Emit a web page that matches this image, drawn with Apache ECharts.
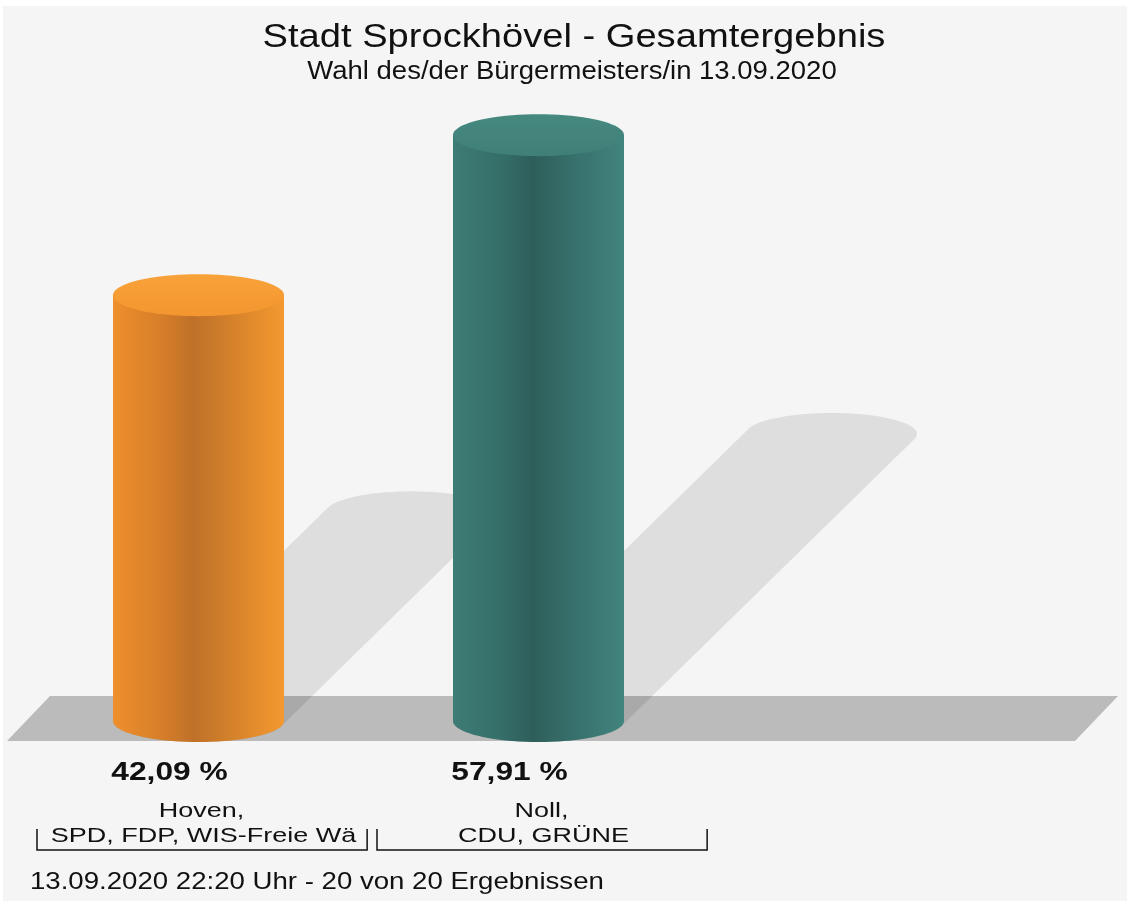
<!DOCTYPE html>
<html>
<head>
<meta charset="utf-8">
<title>Stadt Sprockhövel - Gesamtergebnis</title>
<script src="https://cdn.jsdelivr.net/npm/echarts@6/dist/echarts.min.js"></script>
<style>
  html, body { margin: 0; padding: 0; background: #fff; }
  #chart { width: 1133px; height: 906px; }
</style>
</head>
<body>
<div id="chart"></div>
<script>
const candidates = ['Hoven,', 'Noll,']
const parties = ['SPD, FDP, WIS-Freie Wä', 'CDU, GRÜNE']
const shares = [42.09, 57.91]

const sideColors = [
  ['#ef8f2d', '#d67e29', '#bf7129', '#d07e2b', '#f4992f'],
  ['#3e7c76', '#356e69', '#2e5e5a', '#356c68', '#42847e'],
]
const topColors = [
  ['#f9a23a', '#f3962f'],
  ['#46897f', '#3f7f78'],
]

const font = '"Liberation Sans", Arial, sans-serif'

function ellipsePts(cx, cy, rx, ry, t0, t1, n) {
  const pts = []
  for (let k = 0; k <= n; k++) {
    const t = t0 + (t1 - t0) * k / n
    pts.push([cx + rx * Math.cos(t), cy + ry * Math.sin(t)])
  }
  return pts
}

function fmt(v) {
  return v.toFixed(2).replace('.', ',') + ' %'
}

// text is a bit stretched horizontally in the original
function label(text, x, y, size, scaleX, weight, align) {
  return {
    type: 'text',
    x: x,
    y: y,
    scaleX: scaleX,
    style: {
      text: text,
      font: (weight || 'normal') + ' ' + size + 'px ' + font,
      fill: '#111',
      align: align || 'center',
      verticalAlign: 'middle',
    },
  }
}

// Schatten hinter den Säulen
function renderShadow(params, api) {
  const i = api.value(0)
  const base = api.coord([i, 0])
  const top = api.coord([i, api.value(1)])
  const band = api.size([1, 0])[0]
  const rx = band * 0.2515
  const ry = 21
  const h = base[1] - top[1]
  const dx = h * 0.5
  const dy = -h * 0.49
  const t0 = Math.atan2(ry, rx)
  const pts = ellipsePts(base[0] + dx, base[1] + dy, rx, ry, t0 + Math.PI, t0 + 2 * Math.PI, 40)
    .concat(ellipsePts(base[0], base[1], rx, ry, t0, t0 + Math.PI, 40))
  return {
    type: 'polygon',
    shape: { points: pts },
    style: { fill: 'rgba(0,0,0,0.095)' },
  }
}

function renderCylinder(params, api) {
  const i = api.value(0)
  const v = api.value(1)
  const base = api.coord([i, 0])
  const top = api.coord([i, v])
  const band = api.size([1, 0])[0]
  const cx = base[0]
  const rx = band * 0.2515
  const ry = 21
  const sc = sideColors[i % sideColors.length]
  const tc = topColors[i % topColors.length]
  const body = [[cx - rx, top[1]], [cx + rx, top[1]]]
    .concat(ellipsePts(cx, base[1], rx, ry, 0, Math.PI, 40))
  return {
    type: 'group',
    children: [
      {
        type: 'polygon',
        shape: { points: body },
        style: {
          fill: new echarts.graphic.LinearGradient(0, 0, 1, 0, [
            { offset: 0, color: sc[0] },
            { offset: 0.28, color: sc[1] },
            { offset: 0.47, color: sc[2] },
            { offset: 0.65, color: sc[3] },
            { offset: 1, color: sc[4] },
          ]),
        },
      },
      {
        type: 'polygon',
        shape: { points: ellipsePts(cx, top[1], rx, ry, 0, 2 * Math.PI, 80) },
        style: {
          fill: new echarts.graphic.LinearGradient(0, 0, 0, 1, [
            { offset: 0, color: tc[0] },
            { offset: 1, color: tc[1] },
          ]),
        },
      },
      label(fmt(v), cx - 29, base[1] + 52, 26, 1.22, 'bold'),
      label(candidates[i], cx + 3, base[1] + 90, 20, 1.35),
      label(parties[i], cx + 5, base[1] + 115, 20, 1.35),
      {
        type: 'polyline',
        shape: {
          points: [
            [cx - band * 0.475, base[1] + 108],
            [cx - band * 0.475, base[1] + 129],
            [cx + band * 0.496, base[1] + 129],
            [cx + band * 0.496, base[1] + 108],
          ],
        },
        style: { stroke: '#111', lineWidth: 1.5, fill: null },
      },
    ],
  }
}

const chart = echarts.init(document.getElementById('chart'))

chart.setOption({
  animation: false,
  backgroundColor: '#fff',
  grid: {
    left: 28.5,
    right: 424.5,
    top: 114,
    bottom: 185,
  },
  xAxis: {
    type: 'category',
    data: candidates,
    axisLine: { show: false },
    axisTick: { show: false },
    axisLabel: { show: false },
  },
  yAxis: {
    type: 'value',
    min: 0,
    max: 60,
    show: false,
  },
  graphic: [
    {
      type: 'rect',
      z: -10,
      shape: { x: 3, y: 6, width: 1124, height: 895 },
      style: { fill: '#f5f5f5' },
    },
    {
      type: 'polygon',
      z: -5,
      shape: { points: [[50, 696], [1118, 696], [1075, 741], [7, 741]] },
      style: { fill: '#bbbbbb' },
    },
    label('Stadt Sprockhövel - Gesamtergebnis', 574, 38, 33, 1.155),
    label('Wahl des/der Bürgermeisters/in 13.09.2020', 572, 72, 25, 1.1),
    label('13.09.2020 22:20 Uhr - 20 von 20 Ergebnissen', 30, 882, 24, 1.15, 'normal', 'left'),
  ],
  series: [
    {
      name: 'Schatten',
      type: 'custom',
      z: 1,
      clip: false,
      silent: true,
      renderItem: renderShadow,
      data: shares.map((v, i) => [i, v]),
    },
    {
      name: 'Anteil',
      type: 'custom',
      z: 3,
      clip: false,
      renderItem: renderCylinder,
      data: shares.map((v, i) => [i, v]),
    },
  ],
})
</script>
</body>
</html>
